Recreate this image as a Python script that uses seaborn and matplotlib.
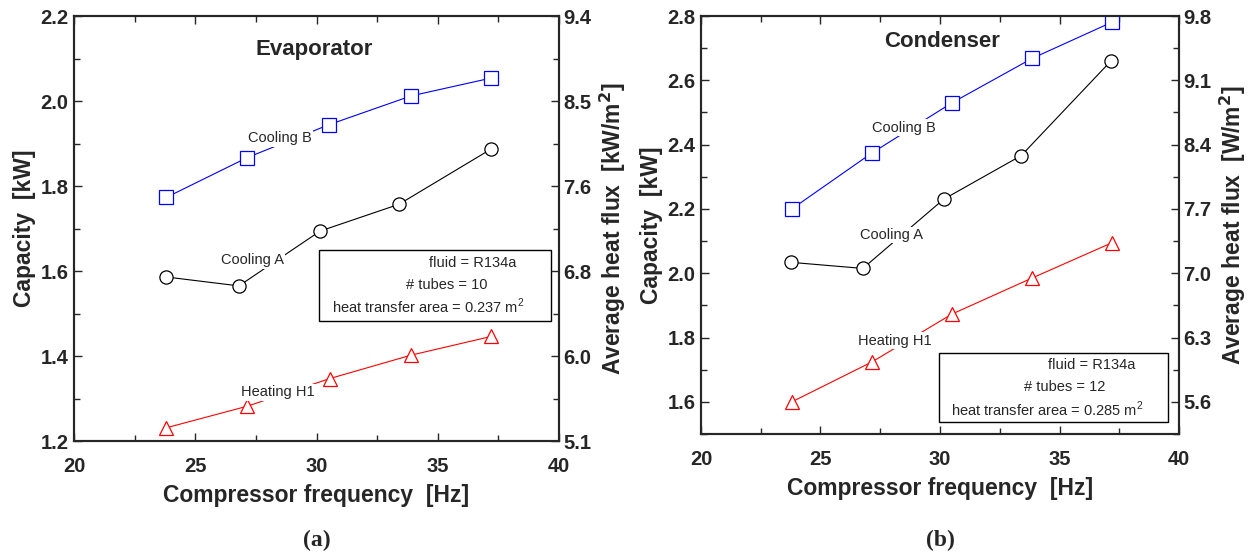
import numpy as np
import seaborn as sns
import matplotlib.pyplot as plt
from matplotlib.ticker import MultipleLocator
from matplotlib.patches import Rectangle

#______Data______

# Evaporator (a)
evap_freq_b = [23.8, 27.15, 30.5, 33.9, 37.2]
evap_cap_b = [1.773, 1.867, 1.944, 2.012, 2.054]
evap_freq_a = [23.8, 26.8, 30.15, 33.4, 37.2]
evap_cap_a = [1.586, 1.565, 1.694, 1.757, 1.887]
evap_freq_h = [23.8, 27.15, 30.55, 33.9, 37.2]
evap_cap_h = [1.231, 1.282, 1.347, 1.402, 1.446]

# Condenser (b)
cond_freq_b = [23.8, 27.15, 30.5, 33.85, 37.2]
cond_cap_b = [2.200, 2.374, 2.530, 2.668, 2.781]
cond_freq_a = [23.75, 26.77, 30.15, 33.4, 37.15]
cond_cap_a = [2.034, 2.015, 2.230, 2.366, 2.660]
cond_freq_h = [23.8, 27.15, 30.5, 33.85, 37.2]
cond_cap_h = [1.600, 1.724, 1.873, 1.985, 2.095]

evap_cap_ticks = [1.2, 1.4, 1.6, 1.8, 2.0, 2.2]
evap_flux_labels = ["5.1", "6.0", "6.8", "7.6", "8.5", "9.4"]
cond_cap_ticks = [1.6, 1.8, 2.0, 2.2, 2.4, 2.6, 2.8]
cond_flux_labels = ["5.6", "6.3", "7.0", "7.7", "8.4", "9.1", "9.8"]
freq_ticks = [20, 25, 30, 35, 40]

evap_info = ["fluid = R134a", "# tubes = 10", "heat transfer area = 0.237 m$^2$"]
cond_info = ["fluid = R134a", "# tubes = 12", "heat transfer area = 0.285 m$^2$"]

#______Style______
sns.set_style("ticks")
plt.rcParams["font.family"] = ["Liberation Sans", "DejaVu Sans"]
plt.rcParams["mathtext.fontset"] = "custom"
plt.rcParams["mathtext.rm"] = "Liberation Sans"

fig = plt.figure(figsize=(12.52, 5.56), dpi=100)
ax_l = fig.add_axes([0.0591, 0.2068, 0.3874, 0.7644])
ax_r = fig.add_axes([0.5599, 0.2194, 0.3818, 0.7518])


def draw_series(ax, x, y, color, marker):
    sns.lineplot(x=x, y=y, ax=ax, color=color, linewidth=0.8, marker=marker,
                 markersize=9.5, markerfacecolor="white", markeredgecolor=color,
                 markeredgewidth=0.9, zorder=2)


def series_label(ax, x, y, s):
    ax.text(x, y, s, fontsize=10.5, ha="center", va="center", zorder=4,
            bbox=dict(facecolor="white", edgecolor="none", pad=1.0))


def style_panel(ax, ylim, yticks, flux_labels, flux_unit):
    ax.set_xlim(20, 40)
    ax.set_ylim(*ylim)
    ax.set_xticks(freq_ticks)
    ax.set_yticks(yticks)
    ax.set_yticklabels([f"{v:.1f}" for v in yticks])
    ax.xaxis.set_minor_locator(MultipleLocator(2.5))
    ax.yaxis.set_minor_locator(MultipleLocator(0.1))
    ax.tick_params(which="both", direction="in", top=True, right=False, width=1.0)
    ax.tick_params(which="major", length=6)
    ax.tick_params(which="minor", length=4)
    ax.tick_params(axis="x", which="major", pad=11.5, labelsize=14.5)
    ax.tick_params(axis="y", which="major", pad=4, labelsize=14.5)
    for lab in ax.get_xticklabels() + ax.get_yticklabels():
        lab.set_fontweight("bold")
    for sp in ax.spines.values():
        sp.set_linewidth(1.5)
    ax.set_xlabel("Compressor frequency  [Hz]", fontsize=16.5, fontweight="bold", labelpad=6)
    ax.set_ylabel("Capacity  [kW]", fontsize=16.5, fontweight="bold", labelpad=3)

    ax2 = ax.twinx()
    ax2.set_ylim(*ylim)
    ax2.set_yticks(yticks)
    ax2.set_yticklabels(flux_labels, fontweight="bold", fontsize=14.5)
    ax2.yaxis.set_minor_locator(MultipleLocator(0.1))
    ax2.tick_params(which="both", direction="in", width=1.0, pad=3)
    ax2.tick_params(which="major", length=6)
    ax2.tick_params(which="minor", length=4)
    for sp in ax2.spines.values():
        sp.set_linewidth(1.5)
    ax2.set_ylabel(f"Average heat flux  [{flux_unit}/m$\\mathbf{{^2}}$]",
                   fontsize=16.5, fontweight="bold", labelpad=5)
    return ax2


def info_box(ax, box, lines):
    x0, y0, x1, y1 = box["rect"]
    ax.add_patch(Rectangle((x0, y0), x1 - x0, y1 - y0, transform=ax.transAxes,
                           facecolor="white", edgecolor="black", linewidth=1.0, zorder=5))
    for (tx, ty), s in zip(box["text"], lines):
        ax.text(tx, ty, s, transform=ax.transAxes, fontsize=10.5, ha="left",
                va="center", zorder=6)


#______(a) Evaporator______
draw_series(ax_l, evap_freq_b, evap_cap_b, "#0000ff", "s")
draw_series(ax_l, evap_freq_a, evap_cap_a, "black", "o")
draw_series(ax_l, evap_freq_h, evap_cap_h, "#ff0000", "^")
series_label(ax_l, 28.5, 1.912, "Cooling B")
series_label(ax_l, 27.35, 1.625, "Cooling A")
series_label(ax_l, 28.4, 1.315, "Heating H1")
ax_l.text(29.9, 2.122, "Evaporator", fontsize=16, fontweight="bold", ha="center", va="center")
style_panel(ax_l, (1.2, 2.2), evap_cap_ticks, evap_flux_labels, "kW")
info_box(ax_l, {"rect": (0.505, 0.282, 0.9835, 0.449),
                "text": [(0.732, 0.419), (0.685, 0.367), (0.532, 0.318)]}, evap_info)

#______(b) Condenser______
draw_series(ax_r, cond_freq_b, cond_cap_b, "#0000ff", "s")
draw_series(ax_r, cond_freq_a, cond_cap_a, "black", "o")
draw_series(ax_r, cond_freq_h, cond_cap_h, "#ff0000", "^")
series_label(ax_r, 28.5, 2.452, "Cooling B")
series_label(ax_r, 27.97, 2.119, "Cooling A")
series_label(ax_r, 28.12, 1.79, "Heating H1")
ax_r.text(30.07, 2.722, "Condenser", fontsize=16, fontweight="bold", ha="center", va="center")
style_panel(ax_r, (1.5, 2.8), cond_cap_ticks, cond_flux_labels, "W")
info_box(ax_r, {"rect": (0.498, 0.029, 0.977, 0.194),
                "text": [(0.726, 0.165), (0.676, 0.112), (0.523, 0.060)]}, cond_info)

fig.text(317 / 1252, 1 - 540 / 556, "(a)", fontsize=17, fontweight="bold",
         family="Liberation Serif", ha="center", va="center")
fig.text(940 / 1252, 1 - 540 / 556, "(b)", fontsize=17, fontweight="bold",
         family="Liberation Serif", ha="center", va="center")

fig.savefig("out.png", dpi=100)
